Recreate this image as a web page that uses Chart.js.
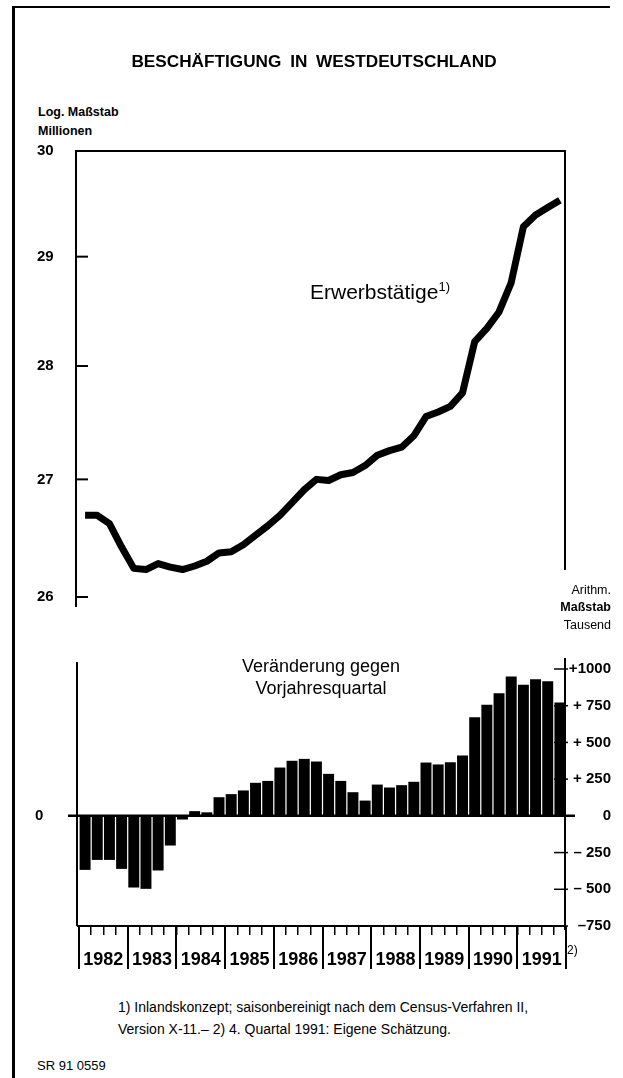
<!DOCTYPE html>
<html>
<head>
<meta charset="utf-8">
<script src="https://cdn.jsdelivr.net/npm/chart.js@4.4.0/dist/chart.umd.min.js"></script>
<style>
  body { margin: 0; background: #fff; }
  #page { position: relative; width: 623px; height: 1078px; overflow: hidden; background: #fff;
          font-family: "Liberation Sans", Arial, sans-serif; color: #000; }
  canvas { position: absolute; left: 0; }
  .t { position: absolute; white-space: nowrap; line-height: 1; }
  .b { font-weight: bold; }
  .rule { position: absolute; background: #000; }
  sup { font-size: 0.62em; vertical-align: 0.6em; line-height: 0; }
</style>
</head>
<body>
<div id="page">
  <canvas id="upper" width="623" height="480" style="top:140px"></canvas>
  <canvas id="lower" width="623" height="360" style="top:630px"></canvas>

  <div class="rule" style="left:12px;top:6px;width:3px;height:1072px"></div>
  <div class="rule" style="left:12px;top:6px;width:598px;height:2px"></div>

  <div class="t b" style="left:0;width:628px;text-align:center;top:53px;font-size:17.2px;word-spacing:4px">BESCHÄFTIGUNG IN WESTDEUTSCHLAND</div>
  <div class="t b" style="left:38px;top:106px;font-size:12.5px">Log. Maßstab</div>
  <div class="t b" style="left:38px;top:125px;font-size:12.5px">Millionen</div>

  <div class="t" style="left:310px;top:281px;font-size:21px">Erwerbstätige<sup>1)</sup></div>

  <div class="t" style="right:12px;top:584px;font-size:12.5px;text-align:right">Arithm.</div>
  <div class="t b" style="right:12px;top:601px;font-size:12.5px;text-align:right">Maßstab</div>
  <div class="t" style="right:12px;top:619px;font-size:12.5px;text-align:right">Tausend</div>

  <div class="t" style="left:0;width:642px;text-align:center;top:655px;font-size:18px;line-height:22px">Veränderung gegen<br>Vorjahresquartal</div>

  <div class="t" style="left:567px;top:944px;font-size:12px">2)</div>

  <div class="t" style="left:118px;top:996px;font-size:14px;line-height:22px">1) Inlandskonzept; saisonbereinigt nach dem Census-Verfahren II,<br>Version X-11.– 2) 4. Quartal 1991: Eigene Schätzung.</div>
  <div class="t" style="left:37px;top:1059px;font-size:13px">SR 91 0559</div>
</div>

<script>
// Quartale 1982 I bis 1991 IV
const years = ['1982', '1983', '1984', '1985', '1986', '1987', '1988', '1989', '1990', '1991'];
const quarterNames = ['I', 'II', 'III', 'IV'];

// Erwerbstätige, Mill. (log. Maßstab)
const employed = [
  26.69, 26.69, 26.62, 26.42,
  26.24, 26.23, 26.28, 26.25,
  26.23, 26.26, 26.30, 26.37,
  26.38, 26.44, 26.52, 26.60,
  26.69, 26.80, 26.91, 27.00,
  26.99, 27.04, 27.06, 27.12,
  27.21, 27.25, 27.28, 27.38,
  27.55, 27.59, 27.64, 27.76,
  28.22, 28.34, 28.49, 28.76,
  29.28, 29.39, 29.46, 29.53
];

// Veränderung gegen Vorjahresquartal, Tsd.
const change = [
  -368, -300, -300, -361,
  -488, -497, -372, -202,
  -25, 32, 24, 127,
  148, 173, 225, 238,
  329, 375, 388, 370,
  286, 238, 161, 104,
  213, 193, 209, 232,
  363, 350, 365, 411,
  672, 756, 835, 949,
  892, 931, 917, 772
];

const logTicks = [26, 27, 28, 29, 30];
const changeTicks = [-750, -500, -250, 0, 250, 500, 750, 1000];
const changeTickText = ['–750', '– 500', '– 250', '0', '+ 250', '+ 500', '+ 750', '+1000'];

const quarters = years.flatMap(y => quarterNames.map(q => y + ' ' + q));

const BLACK = '#000';
const numFont = { family: '"Liberation Sans", Arial, sans-serif', size: 15, weight: 'bold' };

function stroke(ctx, x1, y1, x2, y2, w) {
    ctx.lineWidth = w;
    ctx.beginPath();
    ctx.moveTo(x1, y1);
    ctx.lineTo(x2, y2);
    ctx.stroke();
}

// Rahmen oben: Achse links, Linie oben und rechts, Striche nach innen
const upperFrame = {
    id: 'upperFrame',
    afterDraw(chart) {
        const { ctx, chartArea: a, scales: { y } } = chart;
        ctx.save();
        ctx.strokeStyle = BLACK;
        stroke(ctx, a.left - 3, a.top - 1, a.left - 3, a.bottom + 10, 2);
        stroke(ctx, a.left - 4, a.top, a.right, a.top, 2);
        stroke(ctx, a.right - 1, a.top - 1, a.right - 1, a.bottom - 27, 2);
        logTicks.forEach(v => {
            const py = y.getPixelForValue(v);
            stroke(ctx, a.left - 3, py, a.left + 9, py, 2);
        });
        ctx.restore();
    }
};

const lowerFrame = {
    id: 'lowerFrame',
    afterDraw(chart) {
        const { ctx, chartArea: a, scales: { y } } = chart;
        ctx.save();
        ctx.strokeStyle = BLACK;
        stroke(ctx, a.left - 2, a.top - 7, a.left - 2, a.bottom, 2);
        stroke(ctx, a.right - 1, a.top - 11, a.right - 1, a.bottom + 4, 2);
        stroke(ctx, a.left - 2, a.bottom, a.right, a.bottom, 2);
        const zero = y.getPixelForValue(0);
        stroke(ctx, a.left - 11, zero, a.right + 9, zero, 2.5);
        changeTicks.forEach(v => {
            if (v === 0) return;
            const py = y.getPixelForValue(v);
            stroke(ctx, a.right - 12, py, a.right + 2, py, 1.5);
        });
        ctx.restore();
    }
};

new Chart(document.getElementById('upper'), {
    type: 'line',
    data: {
        labels: quarters,
        datasets: [{
            data: employed,
            borderColor: BLACK,
            borderWidth: 7,
            borderCapStyle: 'butt',
            borderJoinStyle: 'round',
            pointRadius: 0,
            tension: 0,
            fill: false
        }]
    },
    options: {
        responsive: false,
        animation: false,
        layout: { padding: { top: 11, bottom: 23, left: 37, right: 57 } },
        plugins: { legend: { display: false }, tooltip: { enabled: false } },
        scales: {
            x: { type: 'category', offset: true, display: false },
            y: {
                type: 'logarithmic',
                min: 26,
                max: 30,
                afterBuildTicks: s => { s.ticks = logTicks.map(v => ({ value: v })); },
                afterFit: s => { s.width = 42; },
                grid: { display: false, drawTicks: false },
                border: { display: false },
                ticks: { color: BLACK, font: numFont, padding: 0, crossAlign: 'far', callback: v => String(v) }
            }
        }
    },
    plugins: [upperFrame]
});

new Chart(document.getElementById('lower'), {
    type: 'bar',
    data: {
        labels: quarters,
        datasets: [{
            data: change,
            backgroundColor: BLACK,
            borderWidth: 0,
            barPercentage: 0.9,
            categoryPercentage: 1,
            yAxisID: 'y',
            xAxisID: 'x'
        }]
    },
    options: {
        responsive: false,
        animation: false,
        layout: { padding: { top: 39, bottom: 4, left: 35, right: 12 } },
        plugins: { legend: { display: false }, tooltip: { enabled: false } },
        scales: {
            x: {
                type: 'category',
                position: 'bottom',
                offset: true,
                afterFit: s => { s.height = 0; },
                grid: { offset: true, drawOnChartArea: false, drawTicks: true, tickLength: 9, color: BLACK, lineWidth: 1.5 },
                border: { display: false },
                ticks: { display: false }
            },
            xYear: {
                type: 'category',
                labels: years,
                position: 'bottom',
                offset: true,
                afterFit: s => { s.height = 60; },
                grid: { offset: true, drawOnChartArea: false, drawTicks: true, tickLength: 43, color: BLACK, lineWidth: 2 },
                border: { display: false },
                ticks: {
                    color: BLACK,
                    font: { family: '"Liberation Sans", Arial, sans-serif', size: 18, weight: 'bold' },
                    padding: -20,
                    maxRotation: 0,
                    autoSkip: false
                }
            },
            y: {
                position: 'right',
                min: -750,
                max: 1000,
                afterBuildTicks: s => { s.ticks = changeTicks.map(v => ({ value: v })); },
                afterFit: s => { s.width = 45; },
                grid: { display: false, drawTicks: false },
                border: { display: false },
                ticks: {
                    color: BLACK,
                    font: numFont,
                    padding: 0,
                    crossAlign: 'far',
                    callback: (v, i) => changeTickText[i]
                }
            },
            yZero: {
                position: 'left',
                min: -750,
                max: 1000,
                afterBuildTicks: s => { s.ticks = [{ value: 0 }]; },
                afterFit: s => { s.width = 44; },
                grid: { display: false, drawTicks: false },
                border: { display: false },
                ticks: { color: BLACK, font: numFont, padding: 0, crossAlign: 'far', callback: v => String(v) }
            }
        }
    },
    plugins: [lowerFrame]
});
</script>
</body>
</html>
